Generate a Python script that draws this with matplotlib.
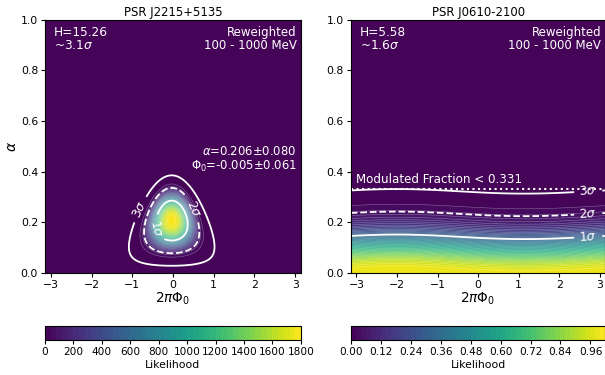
import numpy as np
import matplotlib
matplotlib.use("Agg")
import matplotlib.pyplot as plt

# ---- data ----
titles = ["PSR J2215+5135", "PSR J0610-2100"]
h_texts = ["H=15.26\n~3.1$\\sigma$", "H=5.58\n~1.6$\\sigma$"]
band_text = "Reweighted\n100 - 1000 MeV"

# left panel: likelihood peak in the alpha-phase plane
left_alpha_peak = 0.206
left_phase_peak = -0.005          # Phi_0 (cycles)
left_width = 0.052
left_peak_like = 1790.0
left_shape = (0.571, 1.4)         # colour-surface fall-off (scale, power)
left_levels = np.arange(0, 1801, 40)
left_fit_text = "$\\alpha$=0.206±0.080\n$\\Phi_0$=-0.005±0.061"

# right panel: likelihood peaked near alpha=0
right_alpha_peak = 0.009
right_phase_peak = -2.0 / (2 * np.pi)
right_width = 0.0935
right_peak_like = 1.0
right_shape = (1.0, 1.0)
right_levels = np.arange(0, 1.021, 0.02)
upper_limit = 0.331
limit_text = "Modulated Fraction < 0.331"

# 1, 2, 3 sigma (2 dof) drops in log-likelihood
sigma_dlogl = [1.1479, 3.0898, 5.9145]
sigma_names = ["1$\\sigma$", "2$\\sigma$", "3$\\sigma$"]
sigma_styles = ["solid", "dashed", "solid"]

left_label_pos = [(-0.39, 0.176), (0.49, 0.25), (-0.81, 0.25)]
right_label_pos = [(2.72, 0.135), (2.72, 0.225), (2.72, 0.315)]

cbar_ticks_left = [0, 200, 400, 600, 800, 1000, 1200, 1400, 1600, 1800]


def delta_logl(phi, alpha, a0, ph0, width):
    x = alpha * np.cos(phi) - a0 * np.cos(2 * np.pi * ph0)
    y = alpha * np.sin(phi) - a0 * np.sin(2 * np.pi * ph0)
    return (x ** 2 + y ** 2) / (2 * width ** 2)


phi = np.linspace(-np.pi, np.pi, 500)
alp = np.linspace(0, 1, 500)
PHI, ALP = np.meshgrid(phi, alp)

fig = plt.figure(figsize=(6.05, 3.75), dpi=100)
ax_pos = [[0.0744, 0.273, 0.423, 0.674], [0.5797, 0.273, 0.421, 0.674]]
cb_pos = [[0.0744, 0.0933, 0.423, 0.0373], [0.5797, 0.0933, 0.421, 0.0373]]

params = [
    (left_alpha_peak, left_phase_peak, left_width, left_peak_like, left_shape,
     left_levels, left_label_pos),
    (right_alpha_peak, right_phase_peak, right_width, right_peak_like, right_shape,
     right_levels, right_label_pos),
]

for i, (a0, ph0, w, pk, shp, levs, lpos) in enumerate(params):
    ax = fig.add_axes(ax_pos[i])
    D = delta_logl(PHI, ALP, a0, ph0, w)
    Z = pk * np.exp(-shp[0] * D ** shp[1])
    cf = ax.contourf(PHI, ALP, Z, levels=levs, cmap="viridis")
    ax.contour(PHI, ALP, Z, levels=levs[1:], colors="white", linewidths=0.4, alpha=0.35)
    slev = sorted(sigma_dlogl)
    cs = ax.contour(PHI, ALP, D, levels=slev, colors="white",
                    linewidths=1.3, linestyles=sigma_styles)
    fmt = {lv: nm for lv, nm in zip(cs.levels, sigma_names)}
    ax.clabel(cs, fmt=fmt, manual=lpos, inline=True, fontsize=9)

    ax.set_xlim(-np.pi, np.pi)
    ax.set_ylim(0, 1)
    ax.set_title(titles[i], fontsize=8.4, pad=3)
    ax.set_xlabel("2$\\pi\\Phi_0$", fontsize=9.8, labelpad=1)
    ax.tick_params(labelsize=7.8, length=3, pad=2)
    ax.set_xticks([-3, -2, -1, 0, 1, 2, 3])
    ax.set_yticks([0, 0.2, 0.4, 0.6, 0.8, 1.0])
    if i == 0:
        ax.set_ylabel("$\\alpha$", fontsize=10, labelpad=1.5)
        ax.text(0.983, 0.39, left_fit_text, transform=ax.transAxes, color="white",
                ha="right", va="bottom", fontsize=8.4, multialignment="right",
                linespacing=1.1)
    else:
        ax.axhline(upper_limit, color="white", ls=":", lw=1.5)
        ax.text(-3.0, upper_limit + 0.012, limit_text, color="white",
                ha="left", va="bottom", fontsize=8.6)
    ax.text(0.035, 0.976, h_texts[i], transform=ax.transAxes, color="white",
            ha="left", va="top", fontsize=8.7, linespacing=1.05)
    ax.text(0.983, 0.976, band_text, transform=ax.transAxes, color="white",
            ha="right", va="top", fontsize=8.5, multialignment="right",
            linespacing=1.05)

    cax = fig.add_axes(cb_pos[i])
    cb = fig.colorbar(cf, cax=cax, orientation="horizontal")
    cb.set_label("Likelihood", fontsize=7.8, labelpad=2)
    cax.tick_params(labelsize=7.6, length=3, pad=2)
    if i == 0:
        cb.set_ticks(cbar_ticks_left)

fig.savefig("out.png", dpi=100)
